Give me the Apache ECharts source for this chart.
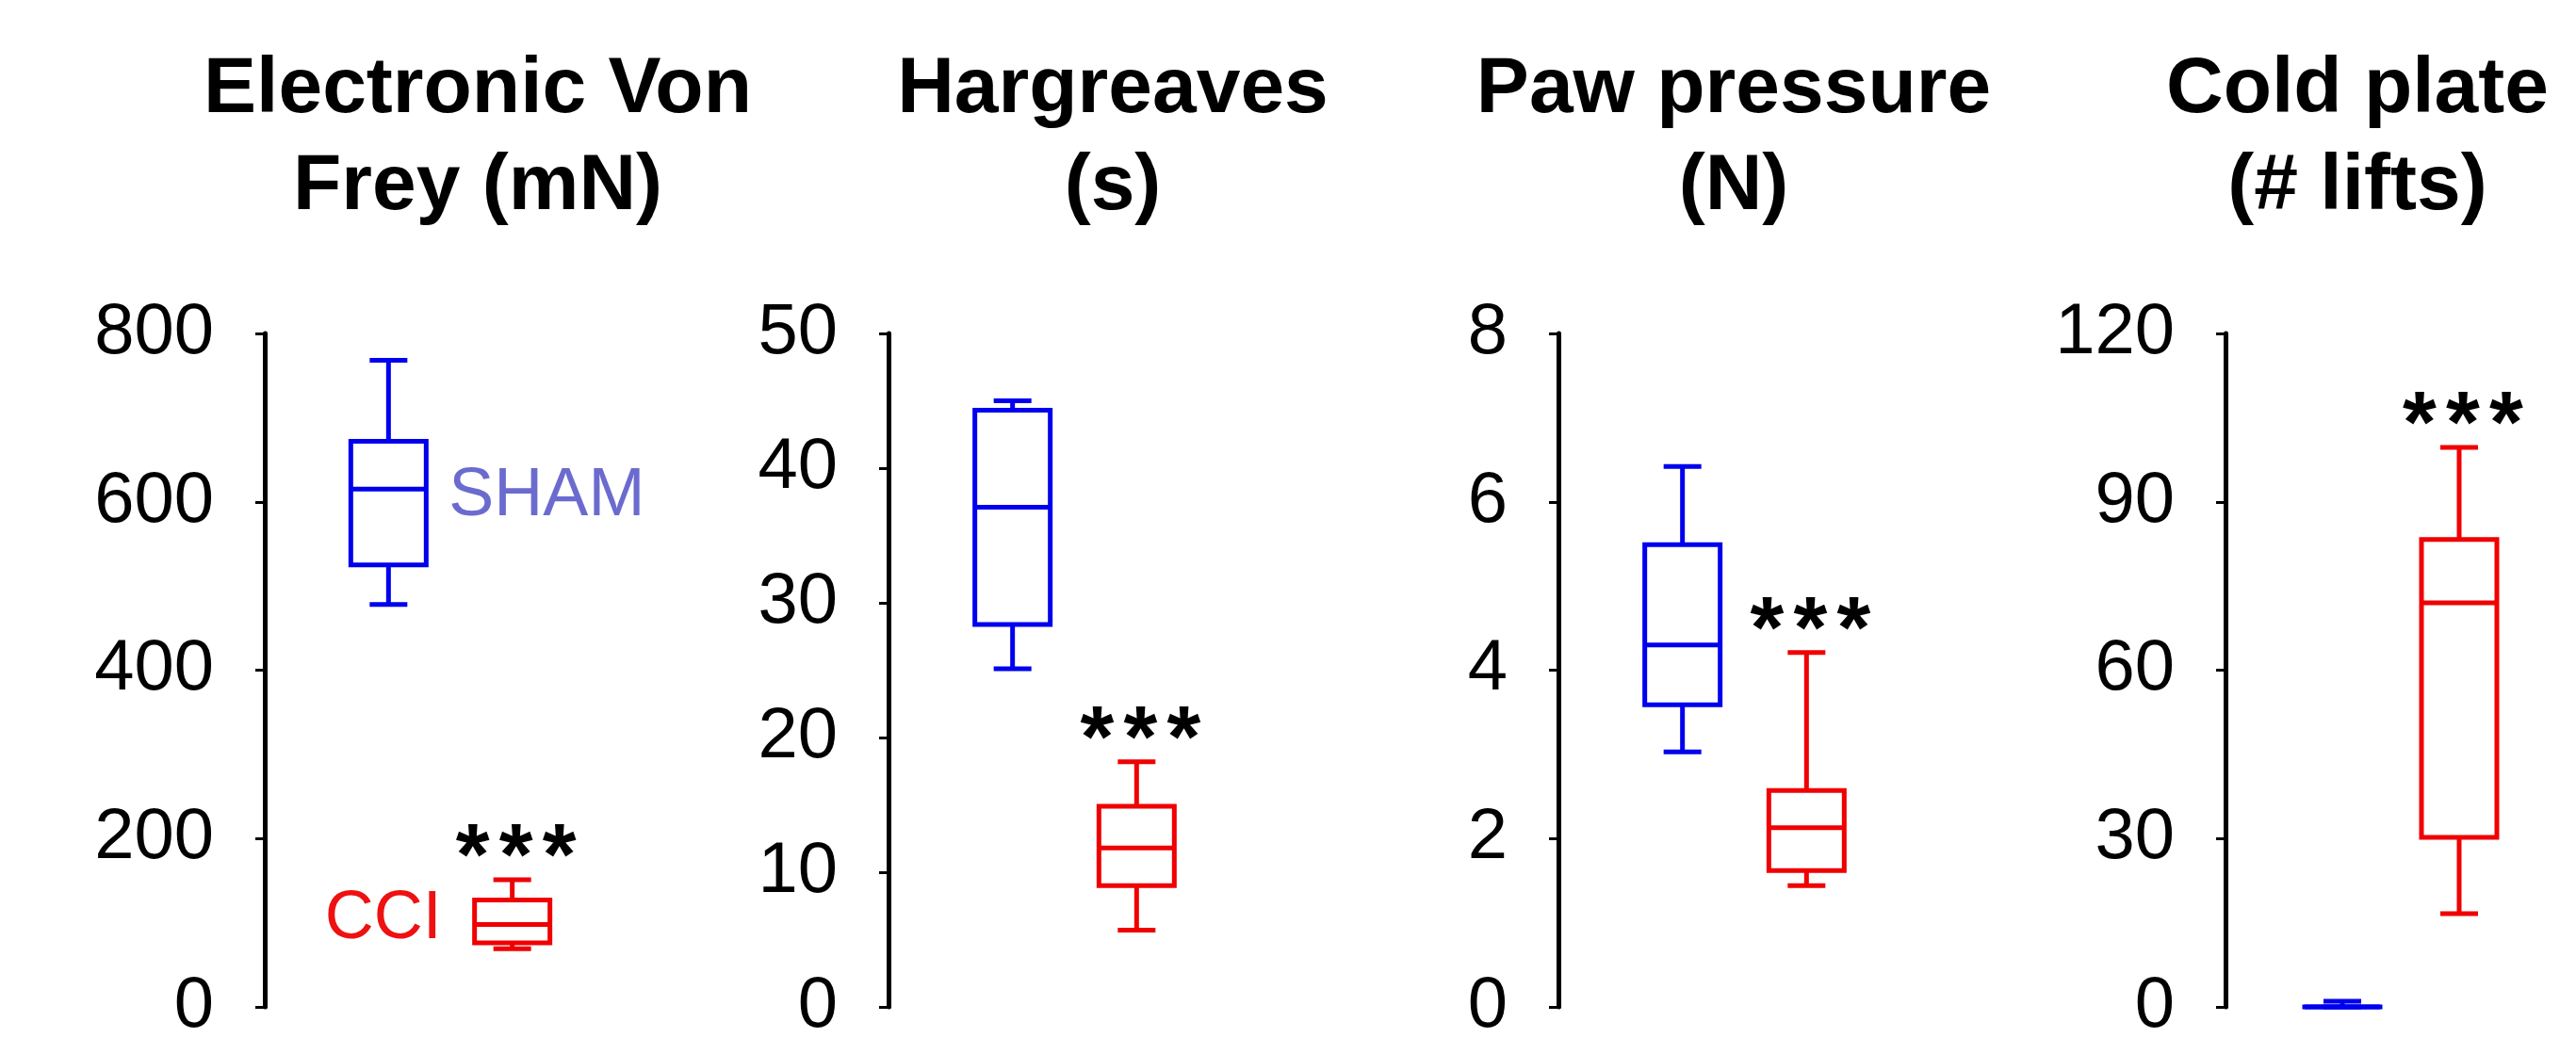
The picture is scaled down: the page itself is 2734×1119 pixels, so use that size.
<!DOCTYPE html>
<html><head><meta charset="utf-8">
<script src="https://cdn.jsdelivr.net/npm/echarts@6/dist/echarts.min.js"></script>
<style>html,body{margin:0;padding:0;background:#fff}#c{width:2734px;height:1119px}</style>
</head><body><div id="c"></div>
<script>
// ---- data ----
const titles = ['Electronic Von\nFrey (mN)', 'Hargreaves\n(s)', 'Paw pressure\n(N)', 'Cold plate\n(# lifts)'];
const groups = ['SHAM', 'CCI'];
const yMax = [800, 50, 8, 120];
const yInterval = [200, 10, 2, 30];
// each box: [min, Q1, median, Q3, max]
const vonFreySham = [478, 525, 615, 672, 768];
const vonFreyCci = [69, 76, 98, 127, 151];
const hargreavesSham = [25.1, 28.4, 37.1, 44.3, 45.0];
const hargreavesCci = [5.7, 9.0, 11.8, 14.9, 18.2];
const pawSham = [3.03, 3.59, 4.30, 5.49, 6.42];
const pawCci = [1.44, 1.62, 2.13, 2.57, 4.21];
const coldSham = [0, 0, 0, 0, 1];
const coldCci = [16.6, 30.2, 72.0, 83.3, 99.7];
const significance = ['***', '***', '***', '***'];

// ---- layout / style ----
const panels = [[vonFreySham, vonFreyCci], [hargreavesSham, hargreavesCci], [pawSham, pawCci], [coldSham, coldCci]];
const gridLeft = [281, 943, 1654, 2362];
const gridWidth = [394, 395, 395, 400];
const titleX = [507, 1181, 1840, 2502];
const GRID_TOP = 354, GRID_H = 715;
const COLORS = ['#0000ee', '#f00000'];
const LABEL_COLORS = ['#6b6bcf', '#ee1111'];
const BOX_W = 80, CAP_W = 40, LW = 5;
const STAR_PITCH = 46;
const FONT = '"Liberation Sans", Arial, sans-serif';

function txt(x, y, text, color, size, weight, align, valign) {
  return {type: 'text', x: x, y: y, z2: 10,
    style: {text: text, fill: color, fontSize: size, fontWeight: weight, fontFamily: FONT,
      align: align, textAlign: align, verticalAlign: valign, textVerticalAlign: valign}};
}

function makeRender(panelIdx) {
  return function (params, api) {
    const cat = api.value(0);
    const vals = [1, 2, 3, 4, 5].map(function (d) { return api.value(d); });
    const pts = vals.map(function (v) { return api.coord([cat, v]); });
    const cx = pts[0][0];
    const y = pts.map(function (p) { return p[1]; });
    const color = COLORS[params.dataIndex];
    const st = {stroke: color, lineWidth: LW, fill: null, lineCap: 'butt'};
    const hw = BOX_W / 2, cw = CAP_W / 2;
    const ch = [
      {type: 'line', shape: {x1: cx, y1: y[3], x2: cx, y2: y[4]}, style: st},
      {type: 'line', shape: {x1: cx, y1: y[1], x2: cx, y2: y[0]}, style: st},
      {type: 'line', shape: {x1: cx - cw, y1: y[4], x2: cx + cw, y2: y[4]}, style: st},
      {type: 'line', shape: {x1: cx - cw, y1: y[0], x2: cx + cw, y2: y[0]}, style: st},
      {type: 'rect', shape: {x: cx - hw, y: y[3], width: BOX_W, height: Math.max(y[1] - y[3], 0.01)}, style: {stroke: color, lineWidth: LW, fill: '#fff'}},
      {type: 'line', shape: {x1: cx - hw, y1: y[2], x2: cx + hw, y2: y[2]}, style: st}
    ];
    if (params.dataIndex === 1) {
      const s = significance[panelIdx];
      const n = s.length;
      for (let k = 0; k < n; k++) {
        ch.push(txt(cx + 4 + (k - (n - 1) / 2) * STAR_PITCH, y[4] - 20, s.charAt(k), '#000', 92, 'bold', 'center', 'middle'));
      }
    }
    if (panelIdx === 0) {
      if (params.dataIndex === 0) ch.push(txt(cx + 64, y[2] + 8, groups[0], LABEL_COLORS[0], 72, 'normal', 'left', 'middle'));
      else ch.push(txt(cx - 75, y[2] - 5, groups[1], LABEL_COLORS[1], 72, 'normal', 'right', 'middle'));
    }
    return {type: 'group', children: ch};
  };
}

const option = {
  backgroundColor: '#fff',
  animation: false,
  title: titles.map(function (t, i) {
    return {text: t, left: titleX[i], top: 44, textAlign: 'center', padding: 0,
      textStyle: {fontSize: 84, fontWeight: 'bold', fontFamily: FONT, color: '#000', lineHeight: 103}};
  }),
  grid: panels.map(function (p, i) {
    return {left: gridLeft[i], top: GRID_TOP, width: gridWidth[i], height: GRID_H, containLabel: false};
  }),
  xAxis: panels.map(function (p, i) {
    return {type: 'category', gridIndex: i, data: ['', groups[0], groups[1], ''], boundaryGap: false, show: false};
  }),
  yAxis: panels.map(function (p, i) {
    return {type: 'value', gridIndex: i, min: 0, max: yMax[i], interval: yInterval[i],
      axisLine: {show: true, lineStyle: {color: '#000', width: 5}},
      axisTick: {show: true, length: 10, lineStyle: {color: '#000', width: 3}},
      axisLabel: {fontSize: 76, color: '#000', margin: 54, fontFamily: FONT, padding: [0, 0, 4, 0]},
      splitLine: {show: false}};
  }),
  series: panels.map(function (p, i) {
    return {type: 'custom', xAxisIndex: i, yAxisIndex: i, clip: false,
      renderItem: makeRender(i),
      encode: {x: 0, y: [1, 2, 3, 4, 5]},
      data: [[1].concat(p[0]), [2].concat(p[1])]};
  })
};
const chart = echarts.init(document.getElementById('c'), null, {renderer: 'canvas'});
chart.setOption(option);
</script></body></html>
